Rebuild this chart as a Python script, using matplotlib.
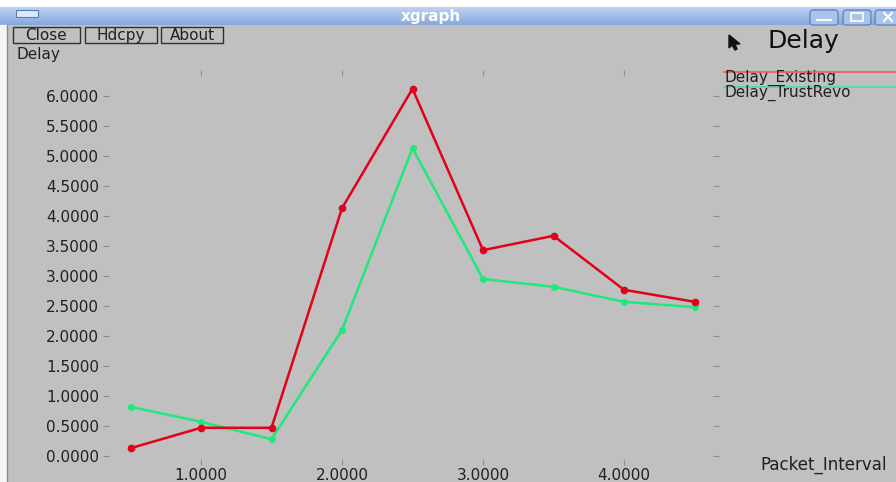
import matplotlib.pyplot as plt
import numpy as np
from matplotlib.patches import Rectangle, FancyBboxPatch, Polygon

# data
packet_interval = [0.5, 1.0, 1.5, 2.0, 2.5, 3.0, 3.5, 4.0, 4.5]
delay_existing = [0.13, 0.47, 0.47, 4.13, 6.12, 3.43, 3.67, 2.77, 2.57]
delay_trustrevo = [0.82, 0.57, 0.28, 2.10, 5.13, 2.95, 2.82, 2.57, 2.48]
x_ticks = [1.0, 2.0, 3.0, 4.0]
y_ticks = [0.0, 0.5, 1.0, 1.5, 2.0, 2.5, 3.0, 3.5, 4.0, 4.5, 5.0, 5.5, 6.0]

W, H = 896, 482
bg = '#c0c0c0'
red = '#e3001b'
green = '#1fe87c'

fig = plt.figure(figsize=(W / 100, H / 100), dpi=100, facecolor=bg)

# window chrome, drawn in pixel coordinates
chrome = fig.add_axes([0, 0, 1, 1])
chrome.set_xlim(0, W)
chrome.set_ylim(H, 0)
chrome.axis('off')
chrome.add_patch(Rectangle((0, 0), W, 7, color='white', zorder=0))
grad = np.linspace(0, 1, 50).reshape(-1, 1)
chrome.imshow(grad, extent=(0, W, 25, 7), aspect='auto', zorder=1,
              cmap=plt.matplotlib.colors.LinearSegmentedColormap.from_list(
                  'bar', ['#bed3f2', '#86a8de']))
chrome.add_patch(Rectangle((0, 25), 6, H - 25, color='#f4f4f4', zorder=1))
chrome.plot([7, 7], [25, H], color='#8a8a8a', lw=1, zorder=2)
chrome.add_patch(Rectangle((16, 10), 22, 7, facecolor='#dde8f8',
                           edgecolor='#5a7cb8', lw=0.8, zorder=2))
chrome.text(431, 16, 'xgraph', color='white', fontsize=11, fontweight='bold',
            ha='center', va='center', zorder=3)
for bx in [810, 843, 875]:
    chrome.add_patch(FancyBboxPatch((bx, 10), 28, 15, boxstyle='round,pad=0,rounding_size=3',
                                    facecolor='#a9c3ea', edgecolor='#6384c0', lw=1, zorder=2))
chrome.plot([817, 831], [20, 20], color='white', lw=1.5, zorder=3)
chrome.add_patch(Rectangle((851, 13), 12, 8, facecolor='none', edgecolor='white', lw=1.2, zorder=3))
chrome.plot([884, 892], [13, 21], color='white', lw=1.5, zorder=3)
chrome.plot([884, 892], [21, 13], color='white', lw=1.5, zorder=3)

for label, x0, x1 in [('Close', 13, 80), ('Hdcpy', 85, 157), ('About', 161, 223)]:
    chrome.add_patch(Rectangle((x0, 27), x1 - x0, 16, facecolor=bg,
                               edgecolor='#303030', lw=1, zorder=2))
    chrome.text((x0 + x1) / 2, 35.5, label, fontsize=11, ha='center', va='center',
                color='#202020', zorder=3)
chrome.text(16, 54, 'Delay', fontsize=11, ha='left', va='center', color='#202020')

# legend / title area on the right
chrome.add_patch(Polygon([(729, 35), (729, 48), (732, 45), (735, 50), (737, 49),
                          (735, 44), (740, 44)], closed=True, color='#101010', zorder=3))
chrome.text(768, 41, 'Delay', fontsize=18, ha='left', va='center', color='#101010')
chrome.plot([724, W], [72, 72], color='#ea5a5a', lw=1.2)
chrome.text(724, 78, 'Delay_Existing', fontsize=11, ha='left', va='center', color='#202020')
chrome.plot([724, W], [87, 87], color='#4fdc98', lw=1.2)
chrome.text(724, 93, 'Delay_TrustRevo', fontsize=11, ha='left', va='center', color='#202020')
chrome.text(760, 465, 'Packet_Interval', fontsize=12, ha='left', va='center', color='#202020')

# plotting area
left, right, top, bottom = 105.5, 716, 73, 462
ax = fig.add_axes([left / W, 1 - bottom / H, (right - left) / W, (bottom - top) / H])
ax.set_facecolor('none')
ax.set_zorder(5)
x_lo = 0.5 + (left - 130.5) / 141
x_hi = 0.5 + (right - 130.5) / 141
ax.set_xlim(x_lo, x_hi)
ax.set_ylim((456 - bottom) / 60, (456 - top) / 60)
for s in ax.spines.values():
    s.set_visible(False)

ax.plot(packet_interval, delay_existing, color=red, lw=1.8, marker='o', ms=4.5, zorder=3)
ax.plot(packet_interval, delay_trustrevo, color=green, lw=1.8, marker='o', ms=4, zorder=2)

ax.set_xticks(x_ticks)
ax.set_xticklabels(['%.4f' % v for v in x_ticks])
ax.set_yticks(y_ticks)
ax.set_yticklabels(['%.4f' % v for v in y_ticks])
ax.tick_params(axis='both', direction='inout', length=5, width=0.8, color='#8e8e8e',
               labelsize=11, labelcolor='#202020', top=True, right=True)
ax.tick_params(axis='y', pad=2)
ax.tick_params(axis='x', pad=2)
zero = ax.yaxis.get_major_ticks()[0]
zero.tick1line.set_color('white')
zero.tick2line.set_color('white')

fig.savefig('out.png', dpi=100, facecolor=bg)
